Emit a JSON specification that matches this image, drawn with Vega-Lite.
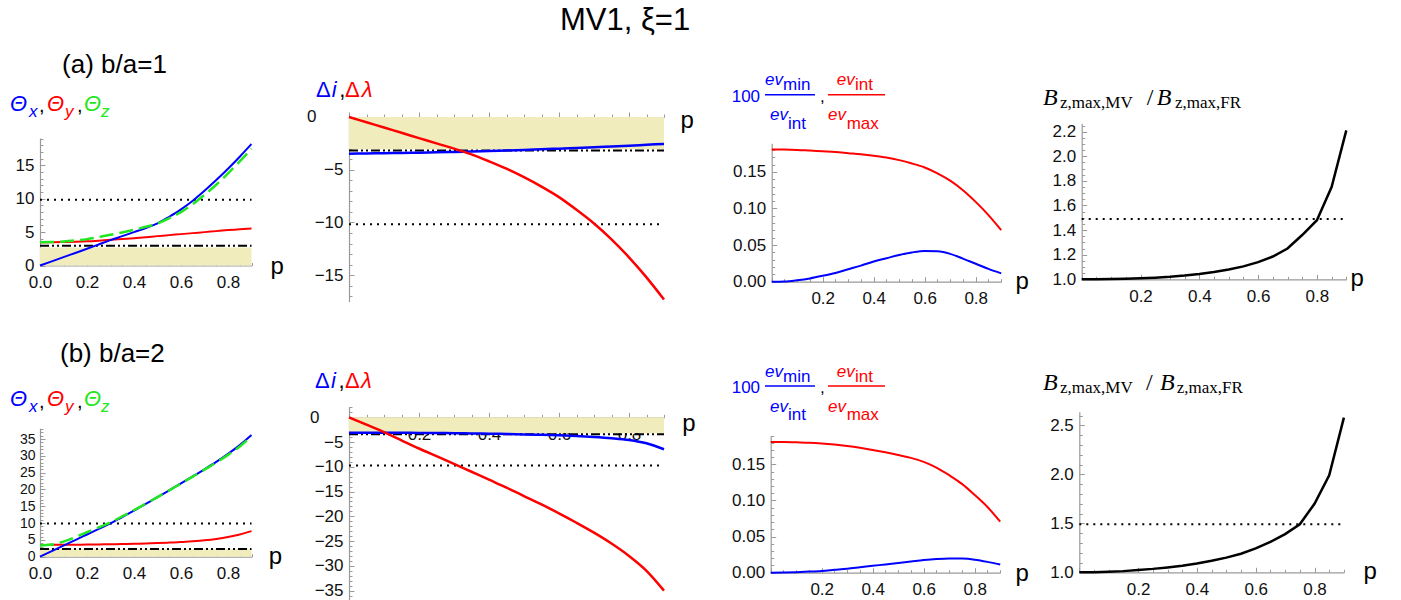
{
"$schema":"https://vega.github.io/schema/vega-lite/v6.json",
"width":1401,"height":600,"autosize":{"type":"none"},"padding":0,
"background":"white",
"title":{"text":"MV1, ξ=1","anchor":"start","frame":"group","orient":"top","offset":-37,"dx":560,"fontSize":31,"font":"Liberation Sans","fontWeight":"normal","color":"#000"},
"config":{"view":{"stroke":null},"axis":{"grid":false,"domainColor":"#9a9a9a","tickColor":"#9a9a9a","domainWidth":1.2,"tickWidth":1,"labelColor":"#111","labelFont":"Liberation Sans","labelFontSize":17,"labelOverlap":false,"labelFlush":false,"labelBound":false,"titleFont":"Liberation Sans","titleFontSize":24,"titleFontWeight":"normal","titleColor":"#000","titlePadding":0},"text":{"font":"Liberation Sans"}},
"resolve":{"scale":{"x":"independent","y":"independent"},"axis":{"x":"independent","y":"independent"}},
"layer":[
{
"data":{"values":[
{"p":0,"x":0,"y":3.5,"z":3.5},{"p":0.05,"x":0.62,"y":3.5,"z":3.52},{"p":0.1,"x":1.25,"y":3.52,"z":3.6},{"p":0.15,"x":1.88,"y":3.56,"z":3.75},{"p":0.2,"x":2.5,"y":3.62,"z":3.95},{"p":0.25,"x":3.15,"y":3.72,"z":4.25},{"p":0.3,"x":3.8,"y":3.84,"z":4.6},{"p":0.35,"x":4.4,"y":3.97,"z":4.95},{"p":0.4,"x":5.0,"y":4.1,"z":5.35},{"p":0.45,"x":5.6,"y":4.25,"z":5.8},{"p":0.5,"x":6.3,"y":4.4,"z":6.3},{"p":0.55,"x":7.3,"y":4.55,"z":7.1},{"p":0.6,"x":8.4,"y":4.7,"z":8.0},{"p":0.65,"x":9.7,"y":4.85,"z":9.2},{"p":0.7,"x":11.2,"y":5.0,"z":10.6},{"p":0.75,"x":12.8,"y":5.15,"z":12.1},{"p":0.8,"x":14.5,"y":5.3,"z":13.8},{"p":0.85,"x":16.3,"y":5.42,"z":15.6},{"p":0.9,"x":18.2,"y":5.55,"z":17.5}
]},
"resolve":{"axis":{"x":"independent","y":"independent"}},
"layer":[
{"data":{"values":[{}]},"mark":{"type":"rule","opacity":0},"encoding":{"x":{"datum":0,"type":"quantitative","scale":{"domain":[0,0.9],"range":[40,251.5],"nice":false,"zero":false},"axis":{"orient":"bottom","offset":-334.5,"values":[0.05,0.1,0.15,0.25,0.3,0.35,0.45,0.5,0.55,0.65,0.7,0.75,0.85,0.9],"labels":false,"domain":false,"tickSize":-3,"title":null}},"y":{"datum":0,"type":"quantitative","scale":{"domain":[0,19.1],"range":[265.5,138],"nice":false,"zero":false},"axis":{"orient":"left","offset":-40,"values":[1,2,3,4,6,7,8,9,11,12,13,14,16,17,18,19],"labels":false,"domain":false,"tickSize":-3,"title":null}}}},
{"data":{"values":[{}]},"mark":{"type":"rect","color":"#f1ecbc"},"encoding":{"x":{"datum":0,"type":"quantitative","scale":{"domain":[0,0.9],"range":[40,251.5],"nice":false,"zero":false},"axis":{"orient":"bottom","offset":-334.5,"labelOverlap":false,"values":[0,0.2,0.4,0.6,0.8],"format":".1f","tickSize":-5,"labelPadding":14,"title":"p","titleX":270,"titleY":7.5,"titleAlign":"left","titleBaseline":"alphabetic"}},"x2":{"datum":0.9},"y":{"datum":0,"type":"quantitative","scale":{"domain":[0,19.1],"range":[265.5,138],"nice":false,"zero":false},"axis":{"orient":"left","offset":-40,"labelOverlap":false,"values":[0,5,10,15],"format":"d","tickSize":-5,"labelPadding":11,"title":null}},"y2":{"datum":2.7}}},
{"data":{"values":[{}]},"mark":{"type":"rule","color":"#000","strokeWidth":2,"strokeDash":[9,3,2,3,2,3]},"encoding":{"x":{"datum":0,"type":"quantitative","scale":{"domain":[0,0.9],"range":[40,251.5],"nice":false,"zero":false},"axis":null},"x2":{"datum":0.9},"y":{"datum":2.97,"type":"quantitative","scale":{"domain":[0,19.1],"range":[265.5,138],"nice":false,"zero":false},"axis":null}}},
{"data":{"values":[{}]},"mark":{"type":"rule","color":"#000","strokeWidth":2,"strokeDash":[2,5]},"encoding":{"x":{"datum":0,"type":"quantitative","scale":{"domain":[0,0.9],"range":[40,251.5],"nice":false,"zero":false},"axis":null},"x2":{"datum":0.9},"y":{"datum":9.85,"type":"quantitative","scale":{"domain":[0,19.1],"range":[265.5,138],"nice":false,"zero":false},"axis":null}}},
{"mark":{"type":"line","color":"#ff0000","strokeWidth":2,"interpolate":"monotone"},"encoding":{"x":{"field":"p","type":"quantitative","scale":{"domain":[0,0.9],"range":[40,251.5],"nice":false,"zero":false},"axis":null},"y":{"field":"y","type":"quantitative","scale":{"domain":[0,19.1],"range":[265.5,138],"nice":false,"zero":false},"axis":null}}},
{"mark":{"type":"line","color":"#0000ff","strokeWidth":2,"interpolate":"monotone"},"encoding":{"x":{"field":"p","type":"quantitative","scale":{"domain":[0,0.9],"range":[40,251.5],"nice":false,"zero":false},"axis":null},"y":{"field":"x","type":"quantitative","scale":{"domain":[0,19.1],"range":[265.5,138],"nice":false,"zero":false},"axis":null}}},
{"mark":{"type":"line","color":"#22e622","strokeWidth":2.5,"strokeDash":[14,6],"interpolate":"monotone"},"encoding":{"x":{"field":"p","type":"quantitative","scale":{"domain":[0,0.9],"range":[40,251.5],"nice":false,"zero":false},"axis":null},"y":{"field":"z","type":"quantitative","scale":{"domain":[0,19.1],"range":[265.5,138],"nice":false,"zero":false},"axis":null}}},
{"data":{"values":[{}]},"mark":{"type":"text","text":"(a) b/a=1","align":"left","baseline":"alphabetic","fontSize":26,"color":"#000"},"encoding":{"x":{"datum":0.094,"type":"quantitative","scale":{"domain":[0,0.9],"range":[40,251.5],"nice":false,"zero":false},"axis":null},"y":{"datum":28.86,"type":"quantitative","scale":{"domain":[0,19.1],"range":[265.5,138],"nice":false,"zero":false},"axis":null}}},
{"data":{"values":[{}]},"mark":{"type":"text","text":"Θ","align":"left","baseline":"alphabetic","fontSize":22,"fontStyle":"italic","color":"#0000ff"},"encoding":{"x":{"datum":-0.1277,"type":"quantitative","scale":{"domain":[0,0.9],"range":[40,251.5],"nice":false,"zero":false},"axis":null},"y":{"datum":23.2,"type":"quantitative","scale":{"domain":[0,19.1],"range":[265.5,138],"nice":false,"zero":false},"axis":null}}},
{"data":{"values":[{}]},"mark":{"type":"text","text":"x","align":"left","baseline":"alphabetic","fontSize":17,"fontStyle":"italic","color":"#0000ff"},"encoding":{"x":{"datum":-0.0468,"type":"quantitative","scale":{"domain":[0,0.9],"range":[40,251.5],"nice":false,"zero":false},"axis":null},"y":{"datum":22.26,"type":"quantitative","scale":{"domain":[0,19.1],"range":[265.5,138],"nice":false,"zero":false},"axis":null}}},
{"data":{"values":[{}]},"mark":{"type":"text","text":",","align":"left","baseline":"alphabetic","fontSize":20,"color":"#000"},"encoding":{"x":{"datum":-0.0043,"type":"quantitative","scale":{"domain":[0,0.9],"range":[40,251.5],"nice":false,"zero":false},"axis":null},"y":{"datum":23.0,"type":"quantitative","scale":{"domain":[0,19.1],"range":[265.5,138],"nice":false,"zero":false},"axis":null}}},
{"data":{"values":[{}]},"mark":{"type":"text","text":"Θ","align":"left","baseline":"alphabetic","fontSize":22,"fontStyle":"italic","color":"#ff0000"},"encoding":{"x":{"datum":0.0298,"type":"quantitative","scale":{"domain":[0,0.9],"range":[40,251.5],"nice":false,"zero":false},"axis":null},"y":{"datum":23.2,"type":"quantitative","scale":{"domain":[0,19.1],"range":[265.5,138],"nice":false,"zero":false},"axis":null}}},
{"data":{"values":[{}]},"mark":{"type":"text","text":"y","align":"left","baseline":"alphabetic","fontSize":17,"fontStyle":"italic","color":"#ff0000"},"encoding":{"x":{"datum":0.1064,"type":"quantitative","scale":{"domain":[0,0.9],"range":[40,251.5],"nice":false,"zero":false},"axis":null},"y":{"datum":22.26,"type":"quantitative","scale":{"domain":[0,19.1],"range":[265.5,138],"nice":false,"zero":false},"axis":null}}},
{"data":{"values":[{}]},"mark":{"type":"text","text":",","align":"left","baseline":"alphabetic","fontSize":20,"color":"#000"},"encoding":{"x":{"datum":0.1574,"type":"quantitative","scale":{"domain":[0,0.9],"range":[40,251.5],"nice":false,"zero":false},"axis":null},"y":{"datum":23.0,"type":"quantitative","scale":{"domain":[0,19.1],"range":[265.5,138],"nice":false,"zero":false},"axis":null}}},
{"data":{"values":[{}]},"mark":{"type":"text","text":"Θ","align":"left","baseline":"alphabetic","fontSize":22,"fontStyle":"italic","color":"#22e622"},"encoding":{"x":{"datum":0.1872,"type":"quantitative","scale":{"domain":[0,0.9],"range":[40,251.5],"nice":false,"zero":false},"axis":null},"y":{"datum":23.2,"type":"quantitative","scale":{"domain":[0,19.1],"range":[265.5,138],"nice":false,"zero":false},"axis":null}}},
{"data":{"values":[{}]},"mark":{"type":"text","text":"z","align":"left","baseline":"alphabetic","fontSize":17,"fontStyle":"italic","color":"#22e622"},"encoding":{"x":{"datum":0.2596,"type":"quantitative","scale":{"domain":[0,0.9],"range":[40,251.5],"nice":false,"zero":false},"axis":null},"y":{"datum":22.26,"type":"quantitative","scale":{"domain":[0,19.1],"range":[265.5,138],"nice":false,"zero":false},"axis":null}}}
]
},
{
"data":{"values":[
{"p":0,"i":-3.48,"l":0},{"p":0.05,"i":-3.455,"l":-0.5},{"p":0.1,"i":-3.43,"l":-1.0},{"p":0.15,"i":-3.405,"l":-1.5},{"p":0.2,"i":-3.38,"l":-2.0},{"p":0.25,"i":-3.345,"l":-2.5},{"p":0.3,"i":-3.31,"l":-3.0},{"p":0.35,"i":-3.265,"l":-3.55},{"p":0.4,"i":-3.22,"l":-4.2},{"p":0.45,"i":-3.17,"l":-4.9},{"p":0.5,"i":-3.12,"l":-5.7},{"p":0.55,"i":-3.06,"l":-6.6},{"p":0.6,"i":-3.0,"l":-7.6},{"p":0.65,"i":-2.935,"l":-8.8},{"p":0.7,"i":-2.87,"l":-10.1},{"p":0.75,"i":-2.795,"l":-11.6},{"p":0.8,"i":-2.72,"l":-13.3},{"p":0.85,"i":-2.635,"l":-15.2},{"p":0.9,"i":-2.55,"l":-17.3}
]},
"resolve":{"axis":{"x":"independent","y":"independent"}},
"layer":[
{"data":{"values":[{}]},"mark":{"type":"rule","opacity":0},"encoding":{"x":{"datum":0,"type":"quantitative","scale":{"domain":[0,0.9],"range":[349,664],"nice":false,"zero":false},"axis":{"orient":"bottom","offset":-483,"values":[0.05,0.1,0.15,0.25,0.3,0.35,0.45,0.5,0.55,0.65,0.7,0.75,0.85,0.9],"labels":false,"domain":false,"tickSize":-3,"title":null}},"y":{"datum":0,"type":"quantitative","scale":{"domain":[-17.5,0.35],"range":[301.6,113.3],"nice":false,"zero":false},"axis":{"orient":"left","offset":-349,"values":[-17,-16,-14,-13,-12,-11,-9,-8,-7,-6,-4,-3,-2,-1],"labels":false,"domain":false,"tickSize":-3,"title":null}}}},
{"data":{"values":[{}]},"mark":{"type":"rect","color":"#f1ecbc"},"encoding":{"x":{"datum":0,"type":"quantitative","scale":{"domain":[0,0.9],"range":[349,664],"nice":false,"zero":false},"axis":{"orient":"bottom","offset":-483,"labelOverlap":false,"values":[0,0.2,0.4,0.6,0.8],"labelExpr":"datum.value>0.01 ? format(datum.value,'.1f') : ''","tickSize":-5,"labelPadding":14,"title":"p","titleX":680,"titleY":10,"titleAlign":"left","titleBaseline":"alphabetic"}},"x2":{"datum":0.9},"y":{"datum":0,"type":"quantitative","scale":{"domain":[-17.5,0.35],"range":[301.6,113.3],"nice":false,"zero":false},"axis":{"orient":"left","offset":-349,"labelOverlap":false,"values":[-15,-10,-5,0],"format":"d","tickSize":-5,"labelPadding":{"condition":{"test":"datum.value===0","value":38},"value":11},"title":null}},"y2":{"datum":-3.05}}},
{"data":{"values":[{}]},"mark":{"type":"rule","color":"#000","strokeWidth":2,"strokeDash":[9,3,2,3,2,3]},"encoding":{"x":{"datum":0,"type":"quantitative","scale":{"domain":[0,0.9],"range":[349,664],"nice":false,"zero":false},"axis":null},"x2":{"datum":0.9},"y":{"datum":-3.17,"type":"quantitative","scale":{"domain":[-17.5,0.35],"range":[301.6,113.3],"nice":false,"zero":false},"axis":null}}},
{"data":{"values":[{}]},"mark":{"type":"rule","color":"#000","strokeWidth":2,"strokeDash":[2,5]},"encoding":{"x":{"datum":0,"type":"quantitative","scale":{"domain":[0,0.9],"range":[349,664],"nice":false,"zero":false},"axis":null},"x2":{"datum":0.9},"y":{"datum":-10.17,"type":"quantitative","scale":{"domain":[-17.5,0.35],"range":[301.6,113.3],"nice":false,"zero":false},"axis":null}}},
{"mark":{"type":"line","color":"#0000ff","strokeWidth":2.5,"interpolate":"monotone"},"encoding":{"x":{"field":"p","type":"quantitative","scale":{"domain":[0,0.9],"range":[349,664],"nice":false,"zero":false},"axis":null},"y":{"field":"i","type":"quantitative","scale":{"domain":[-17.5,0.35],"range":[301.6,113.3],"nice":false,"zero":false},"axis":null}}},
{"mark":{"type":"line","color":"#ff0000","strokeWidth":2.5,"interpolate":"monotone"},"encoding":{"x":{"field":"p","type":"quantitative","scale":{"domain":[0,0.9],"range":[349,664],"nice":false,"zero":false},"axis":null},"y":{"field":"l","type":"quantitative","scale":{"domain":[-17.5,0.35],"range":[301.6,113.3],"nice":false,"zero":false},"axis":null}}},
{"data":{"values":[{}]},"mark":{"type":"text","text":"Δ","align":"left","baseline":"alphabetic","fontSize":22,"color":"#0000ff"},"encoding":{"x":{"datum":-0.0943,"type":"quantitative","scale":{"domain":[0,0.9],"range":[349,664],"nice":false,"zero":false},"axis":null},"y":{"datum":1.924,"type":"quantitative","scale":{"domain":[-17.5,0.35],"range":[301.6,113.3],"nice":false,"zero":false},"axis":null}}},
{"data":{"values":[{}]},"mark":{"type":"text","text":"i","align":"left","baseline":"alphabetic","fontSize":22,"fontStyle":"italic","color":"#0000ff"},"encoding":{"x":{"datum":-0.0495,"type":"quantitative","scale":{"domain":[0,0.9],"range":[349,664],"nice":false,"zero":false},"axis":null},"y":{"datum":1.924,"type":"quantitative","scale":{"domain":[-17.5,0.35],"range":[301.6,113.3],"nice":false,"zero":false},"axis":null}}},
{"data":{"values":[{}]},"mark":{"type":"text","text":",","align":"left","baseline":"alphabetic","fontSize":22,"color":"#000"},"encoding":{"x":{"datum":-0.0277,"type":"quantitative","scale":{"domain":[0,0.9],"range":[349,664],"nice":false,"zero":false},"axis":null},"y":{"datum":1.924,"type":"quantitative","scale":{"domain":[-17.5,0.35],"range":[301.6,113.3],"nice":false,"zero":false},"axis":null}}},
{"data":{"values":[{}]},"mark":{"type":"text","text":"Δ","align":"left","baseline":"alphabetic","fontSize":22,"color":"#ff0000"},"encoding":{"x":{"datum":-0.0114,"type":"quantitative","scale":{"domain":[0,0.9],"range":[349,664],"nice":false,"zero":false},"axis":null},"y":{"datum":1.924,"type":"quantitative","scale":{"domain":[-17.5,0.35],"range":[301.6,113.3],"nice":false,"zero":false},"axis":null}}},
{"data":{"values":[{}]},"mark":{"type":"text","text":"λ","align":"left","baseline":"alphabetic","fontSize":22,"fontStyle":"italic","color":"#ff0000"},"encoding":{"x":{"datum":0.0362,"type":"quantitative","scale":{"domain":[0,0.9],"range":[349,664],"nice":false,"zero":false},"axis":null},"y":{"datum":1.924,"type":"quantitative","scale":{"domain":[-17.5,0.35],"range":[301.6,113.3],"nice":false,"zero":false},"axis":null}}}
]
},
{
"data":{"values":[
{"p":0,"b":0,"r":0.1805},{"p":0.05,"b":0.0003,"r":0.1804},{"p":0.1,"b":0.002,"r":0.18},{"p":0.15,"b":0.0045,"r":0.179},{"p":0.2,"b":0.008,"r":0.178},{"p":0.25,"b":0.012,"r":0.177},{"p":0.3,"b":0.017,"r":0.1755},{"p":0.35,"b":0.022,"r":0.174},{"p":0.4,"b":0.0275,"r":0.172},{"p":0.45,"b":0.032,"r":0.1695},{"p":0.5,"b":0.0365,"r":0.166},{"p":0.55,"b":0.04,"r":0.1615},{"p":0.6,"b":0.042,"r":0.156},{"p":0.65,"b":0.0415,"r":0.148},{"p":0.7,"b":0.038,"r":0.138},{"p":0.75,"b":0.0315,"r":0.125},{"p":0.8,"b":0.0245,"r":0.109},{"p":0.85,"b":0.0175,"r":0.091},{"p":0.9,"b":0.0114,"r":0.0705}
]},
"resolve":{"axis":{"x":"independent","y":"independent"}},
"layer":[
{"data":{"values":[{}]},"mark":{"type":"rule","opacity":0},"encoding":{"x":{"datum":0,"type":"quantitative","scale":{"domain":[0,0.9],"range":[771.7,1001.2],"nice":false,"zero":false},"axis":{"orient":"bottom","offset":-318.3,"values":[0.05,0.1,0.15,0.25,0.3,0.35,0.45,0.5,0.55,0.65,0.7,0.75,0.85,0.9],"labels":false,"domain":false,"tickSize":-3,"title":null}},"y":{"datum":0,"type":"quantitative","scale":{"domain":[0,0.189],"range":[281.7,143.3],"nice":false,"zero":false},"axis":{"orient":"left","offset":-771.7,"values":[0.01,0.02,0.03,0.04,0.06,0.07,0.08,0.09,0.11,0.12,0.13,0.14,0.16,0.17,0.18],"labels":false,"domain":false,"tickSize":-3,"title":null}}}},
{"mark":{"type":"line","color":"#ff0000","strokeWidth":2,"interpolate":"monotone"},"encoding":{"x":{"field":"p","type":"quantitative","scale":{"domain":[0,0.9],"range":[771.7,1001.2],"nice":false,"zero":false},"axis":{"orient":"bottom","offset":-318.3,"labelOverlap":false,"values":[0,0.2,0.4,0.6,0.8],"labelExpr":"datum.value>0.01 ? format(datum.value,'.1f') : ''","tickSize":-5,"labelPadding":14,"title":"p","titleX":1015,"titleY":6.3,"titleAlign":"left","titleBaseline":"alphabetic"}},"y":{"field":"r","type":"quantitative","scale":{"domain":[0,0.189],"range":[281.7,143.3],"nice":false,"zero":false},"axis":{"orient":"left","offset":-771.7,"labelOverlap":false,"values":[0,0.05,0.1,0.15],"format":".2f","tickSize":-5,"labelPadding":11,"title":null}}}},
{"mark":{"type":"line","color":"#0000ff","strokeWidth":2,"interpolate":"monotone"},"encoding":{"x":{"field":"p","type":"quantitative","scale":{"domain":[0,0.9],"range":[771.7,1001.2],"nice":false,"zero":false},"axis":null},"y":{"field":"b","type":"quantitative","scale":{"domain":[0,0.189],"range":[281.7,143.3],"nice":false,"zero":false},"axis":null}}},
{"data":{"values":[{}]},"mark":{"type":"text","text":"100","align":"left","baseline":"alphabetic","fontSize":17,"color":"#0000ff"},"encoding":{"x":{"datum":-0.1569,"type":"quantitative","scale":{"domain":[0,0.9],"range":[771.7,1001.2],"nice":false,"zero":false},"axis":null},"y":{"datum":0.2454,"type":"quantitative","scale":{"domain":[0,0.189],"range":[281.7,143.3],"nice":false,"zero":false},"axis":null}}},
{"data":{"values":[{}]},"mark":{"type":"text","text":"ev","align":"left","baseline":"alphabetic","fontSize":17,"fontStyle":"italic","color":"#0000ff"},"encoding":{"x":{"datum":-0.0263,"type":"quantitative","scale":{"domain":[0,0.9],"range":[771.7,1001.2],"nice":false,"zero":false},"axis":null},"y":{"datum":0.2681,"type":"quantitative","scale":{"domain":[0,0.189],"range":[281.7,143.3],"nice":false,"zero":false},"axis":null}}},
{"data":{"values":[{}]},"mark":{"type":"text","text":"min","align":"left","baseline":"alphabetic","fontSize":17,"color":"#0000ff"},"encoding":{"x":{"datum":0.0443,"type":"quantitative","scale":{"domain":[0,0.9],"range":[771.7,1001.2],"nice":false,"zero":false},"axis":null},"y":{"datum":0.2613,"type":"quantitative","scale":{"domain":[0,0.189],"range":[281.7,143.3],"nice":false,"zero":false},"axis":null}}},
{"data":{"values":[{}]},"mark":{"type":"rule","color":"#0000ff","strokeWidth":1.5},"encoding":{"x":{"datum":-0.0263,"type":"quantitative","scale":{"domain":[0,0.9],"range":[771.7,1001.2],"nice":false,"zero":false},"axis":null},"x2":{"datum":0.1698},"y":{"datum":0.2554,"type":"quantitative","scale":{"domain":[0,0.189],"range":[281.7,143.3],"nice":false,"zero":false},"axis":null}}},
{"data":{"values":[{}]},"mark":{"type":"text","text":"ev","align":"left","baseline":"alphabetic","fontSize":17,"fontStyle":"italic","color":"#0000ff"},"encoding":{"x":{"datum":-0.0067,"type":"quantitative","scale":{"domain":[0,0.9],"range":[771.7,1001.2],"nice":false,"zero":false},"axis":null},"y":{"datum":0.2203,"type":"quantitative","scale":{"domain":[0,0.189],"range":[281.7,143.3],"nice":false,"zero":false},"axis":null}}},
{"data":{"values":[{}]},"mark":{"type":"text","text":"int","align":"left","baseline":"alphabetic","fontSize":17,"color":"#0000ff"},"encoding":{"x":{"datum":0.0639,"type":"quantitative","scale":{"domain":[0,0.9],"range":[771.7,1001.2],"nice":false,"zero":false},"axis":null},"y":{"datum":0.209,"type":"quantitative","scale":{"domain":[0,0.189],"range":[281.7,143.3],"nice":false,"zero":false},"axis":null}}},
{"data":{"values":[{}]},"mark":{"type":"text","text":",","align":"left","baseline":"alphabetic","fontSize":17,"color":"#000"},"encoding":{"x":{"datum":0.1894,"type":"quantitative","scale":{"domain":[0,0.9],"range":[771.7,1001.2],"nice":false,"zero":false},"axis":null},"y":{"datum":0.2458,"type":"quantitative","scale":{"domain":[0,0.189],"range":[281.7,143.3],"nice":false,"zero":false},"axis":null}}},
{"data":{"values":[{}]},"mark":{"type":"text","text":"ev","align":"left","baseline":"alphabetic","fontSize":17,"fontStyle":"italic","color":"#ff0000"},"encoding":{"x":{"datum":0.2549,"type":"quantitative","scale":{"domain":[0,0.9],"range":[771.7,1001.2],"nice":false,"zero":false},"axis":null},"y":{"datum":0.2681,"type":"quantitative","scale":{"domain":[0,0.189],"range":[281.7,143.3],"nice":false,"zero":false},"axis":null}}},
{"data":{"values":[{}]},"mark":{"type":"text","text":"int","align":"left","baseline":"alphabetic","fontSize":17,"color":"#ff0000"},"encoding":{"x":{"datum":0.3267,"type":"quantitative","scale":{"domain":[0,0.9],"range":[771.7,1001.2],"nice":false,"zero":false},"axis":null},"y":{"datum":0.2613,"type":"quantitative","scale":{"domain":[0,0.189],"range":[281.7,143.3],"nice":false,"zero":false},"axis":null}}},
{"data":{"values":[{}]},"mark":{"type":"rule","color":"#ff0000","strokeWidth":1.5},"encoding":{"x":{"datum":0.2208,"type":"quantitative","scale":{"domain":[0,0.9],"range":[771.7,1001.2],"nice":false,"zero":false},"axis":null},"x2":{"datum":0.4443},"y":{"datum":0.2554,"type":"quantitative","scale":{"domain":[0,0.189],"range":[281.7,143.3],"nice":false,"zero":false},"axis":null}}},
{"data":{"values":[{}]},"mark":{"type":"text","text":"ev","align":"left","baseline":"alphabetic","fontSize":17,"fontStyle":"italic","color":"#ff0000"},"encoding":{"x":{"datum":0.2208,"type":"quantitative","scale":{"domain":[0,0.9],"range":[771.7,1001.2],"nice":false,"zero":false},"axis":null},"y":{"datum":0.2203,"type":"quantitative","scale":{"domain":[0,0.189],"range":[281.7,143.3],"nice":false,"zero":false},"axis":null}}},
{"data":{"values":[{}]},"mark":{"type":"text","text":"max","align":"left","baseline":"alphabetic","fontSize":17,"color":"#ff0000"},"encoding":{"x":{"datum":0.2941,"type":"quantitative","scale":{"domain":[0,0.9],"range":[771.7,1001.2],"nice":false,"zero":false},"axis":null},"y":{"datum":0.209,"type":"quantitative","scale":{"domain":[0,0.189],"range":[281.7,143.3],"nice":false,"zero":false},"axis":null}}}
]
},
{
"data":{"values":[
{"p":0,"v":1.0},{"p":0.05,"v":1.0005},{"p":0.1,"v":1.002},{"p":0.15,"v":1.004},{"p":0.2,"v":1.008},{"p":0.25,"v":1.013},{"p":0.3,"v":1.02},{"p":0.35,"v":1.03},{"p":0.4,"v":1.043},{"p":0.45,"v":1.06},{"p":0.5,"v":1.08},{"p":0.55,"v":1.105},{"p":0.6,"v":1.14},{"p":0.65,"v":1.185},{"p":0.7,"v":1.25},{"p":0.75,"v":1.36},{"p":0.8,"v":1.48},{"p":0.85,"v":1.75},{"p":0.9,"v":2.21}
]},
"resolve":{"axis":{"x":"independent","y":"independent"}},
"layer":[
{"data":{"values":[{}]},"mark":{"type":"rule","opacity":0},"encoding":{"x":{"datum":0,"type":"quantitative","scale":{"domain":[0,0.9],"range":[1081.7,1346.3],"nice":false,"zero":false},"axis":{"orient":"bottom","offset":-320.7,"values":[0.05,0.1,0.15,0.25,0.3,0.35,0.45,0.5,0.55,0.65,0.7,0.75,0.85,0.9],"labels":false,"domain":false,"tickSize":-3,"title":null}},"y":{"datum":1,"type":"quantitative","scale":{"domain":[1,2.268],"range":[279.3,123.3],"nice":false,"zero":false},"axis":{"orient":"left","offset":-1081.7,"values":[1.05,1.1,1.15,1.25,1.3,1.35,1.45,1.5,1.55,1.65,1.7,1.75,1.85,1.9,1.95,2.05,2.1,2.15,2.25],"labels":false,"domain":false,"tickSize":-3,"title":null}}}},
{"data":{"values":[{}]},"mark":{"type":"rule","color":"#000","strokeWidth":2,"strokeDash":[2,5]},"encoding":{"x":{"datum":0,"type":"quantitative","scale":{"domain":[0,0.9],"range":[1081.7,1346.3],"nice":false,"zero":false},"axis":{"orient":"bottom","offset":-320.7,"labelOverlap":false,"values":[0,0.2,0.4,0.6,0.8],"labelExpr":"datum.value>0.01 ? format(datum.value,'.1f') : ''","tickSize":-5,"labelPadding":14,"title":"p","titleX":1350,"titleY":5.7,"titleAlign":"left","titleBaseline":"alphabetic"}},"x2":{"datum":0.9},"y":{"datum":1.49,"type":"quantitative","scale":{"domain":[1,2.268],"range":[279.3,123.3],"nice":false,"zero":false},"axis":{"orient":"left","offset":-1081.7,"labelOverlap":false,"values":[1,1.2,1.4,1.6,1.8,2,2.2],"format":".1f","tickSize":-5,"labelPadding":11,"title":null}}}},
{"mark":{"type":"line","color":"#000","strokeWidth":2.5},"encoding":{"x":{"field":"p","type":"quantitative","scale":{"domain":[0,0.9],"range":[1081.7,1346.3],"nice":false,"zero":false},"axis":null},"y":{"field":"v","type":"quantitative","scale":{"domain":[1,2.268],"range":[279.3,123.3],"nice":false,"zero":false},"axis":null}}},
{"data":{"values":[{}]},"mark":{"type":"text","text":"B","align":"left","baseline":"alphabetic","fontSize":24,"fontStyle":"italic","font":"Liberation Serif","color":"#000"},"encoding":{"x":{"datum":-0.1316,"type":"quantitative","scale":{"domain":[0,0.9],"range":[1081.7,1346.3],"nice":false,"zero":false},"axis":null},"y":{"datum":2.417,"type":"quantitative","scale":{"domain":[1,2.268],"range":[279.3,123.3],"nice":false,"zero":false},"axis":null}}},
{"data":{"values":[{}]},"mark":{"type":"text","text":"z,max,MV","align":"left","baseline":"alphabetic","fontSize":17,"font":"Liberation Serif","color":"#000"},"encoding":{"x":{"datum":-0.0738,"type":"quantitative","scale":{"domain":[0,0.9],"range":[1081.7,1346.3],"nice":false,"zero":false},"axis":null},"y":{"datum":2.393,"type":"quantitative","scale":{"domain":[1,2.268],"range":[279.3,123.3],"nice":false,"zero":false},"axis":null}}},
{"data":{"values":[{}]},"mark":{"type":"text","text":"/","align":"left","baseline":"alphabetic","fontSize":24,"font":"Liberation Serif","color":"#000"},"encoding":{"x":{"datum":0.221,"type":"quantitative","scale":{"domain":[0,0.9],"range":[1081.7,1346.3],"nice":false,"zero":false},"axis":null},"y":{"datum":2.417,"type":"quantitative","scale":{"domain":[1,2.268],"range":[279.3,123.3],"nice":false,"zero":false},"axis":null}}},
{"data":{"values":[{}]},"mark":{"type":"text","text":"B","align":"left","baseline":"alphabetic","fontSize":24,"fontStyle":"italic","font":"Liberation Serif","color":"#000"},"encoding":{"x":{"datum":0.2551,"type":"quantitative","scale":{"domain":[0,0.9],"range":[1081.7,1346.3],"nice":false,"zero":false},"axis":null},"y":{"datum":2.417,"type":"quantitative","scale":{"domain":[1,2.268],"range":[279.3,123.3],"nice":false,"zero":false},"axis":null}}},
{"data":{"values":[{}]},"mark":{"type":"text","text":"z,max,FR","align":"left","baseline":"alphabetic","fontSize":17,"font":"Liberation Serif","color":"#000"},"encoding":{"x":{"datum":0.3173,"type":"quantitative","scale":{"domain":[0,0.9],"range":[1081.7,1346.3],"nice":false,"zero":false},"axis":null},"y":{"datum":2.393,"type":"quantitative","scale":{"domain":[1,2.268],"range":[279.3,123.3],"nice":false,"zero":false},"axis":null}}}
]
},
{
"data":{"values":[
{"p":0,"x":0,"y":3.5,"z":3.3},{"p":0.05,"x":1.65,"y":3.52,"z":3.6},{"p":0.1,"x":3.3,"y":3.55,"z":4.5},{"p":0.15,"x":4.95,"y":3.57,"z":5.8},{"p":0.2,"x":6.6,"y":3.6,"z":7.3},{"p":0.25,"x":8.25,"y":3.65,"z":8.7},{"p":0.3,"x":9.9,"y":3.7,"z":10.2},{"p":0.35,"x":11.8,"y":3.77,"z":12.0},{"p":0.4,"x":13.7,"y":3.85,"z":13.85},{"p":0.45,"x":15.7,"y":3.95,"z":15.8},{"p":0.5,"x":17.7,"y":4.05,"z":17.75},{"p":0.55,"x":19.75,"y":4.2,"z":19.75},{"p":0.6,"x":21.8,"y":4.35,"z":21.75},{"p":0.65,"x":23.9,"y":4.6,"z":23.8},{"p":0.7,"x":26.0,"y":4.9,"z":25.9},{"p":0.75,"x":28.2,"y":5.3,"z":28.0},{"p":0.8,"x":30.6,"y":5.85,"z":30.3},{"p":0.85,"x":33.2,"y":6.6,"z":32.8},{"p":0.9,"x":36.2,"y":7.6,"z":35.8}
]},
"resolve":{"axis":{"x":"independent","y":"independent"}},
"layer":[
{"data":{"values":[{}]},"mark":{"type":"rule","opacity":0},"encoding":{"x":{"datum":0,"type":"quantitative","scale":{"domain":[0,0.9],"range":[40,251.5],"nice":false,"zero":false},"axis":{"orient":"bottom","offset":-43.3,"values":[0.05,0.1,0.15,0.25,0.3,0.35,0.45,0.5,0.55,0.65,0.7,0.75,0.85,0.9],"labels":false,"domain":false,"tickSize":-3,"title":null}},"y":{"datum":0,"type":"quantitative","scale":{"domain":[0,38.2],"range":[556.7,428.3],"nice":false,"zero":false},"axis":{"orient":"left","offset":-40,"values":[1,2,3,4,6,7,8,9,11,12,13,14,16,17,18,19,21,22,23,24,26,27,28,29,31,32,33,34,36,37,38],"labels":false,"domain":false,"tickSize":-3,"title":null}}}},
{"data":{"values":[{}]},"mark":{"type":"rect","color":"#f1ecbc"},"encoding":{"x":{"datum":0,"type":"quantitative","scale":{"domain":[0,0.9],"range":[40,251.5],"nice":false,"zero":false},"axis":{"orient":"bottom","offset":-43.3,"labelOverlap":false,"values":[0,0.2,0.4,0.6,0.8],"format":".1f","tickSize":-5,"labelPadding":14,"title":"p","titleX":268.3,"titleY":6.6,"titleAlign":"left","titleBaseline":"alphabetic"}},"x2":{"datum":0.9},"y":{"datum":0,"type":"quantitative","scale":{"domain":[0,38.2],"range":[556.7,428.3],"nice":false,"zero":false},"axis":{"orient":"left","offset":-40,"labelOverlap":false,"values":[0,5,10,15,20,25,30,35],"format":"d","labelFontSize":14,"tickSize":-5,"labelPadding":10,"title":null}},"y2":{"datum":2.3}}},
{"data":{"values":[{}]},"mark":{"type":"rule","color":"#000","strokeWidth":2,"strokeDash":[9,3,2,3,2,3]},"encoding":{"x":{"datum":0,"type":"quantitative","scale":{"domain":[0,0.9],"range":[40,251.5],"nice":false,"zero":false},"axis":null},"x2":{"datum":0.9},"y":{"datum":2.3,"type":"quantitative","scale":{"domain":[0,38.2],"range":[556.7,428.3],"nice":false,"zero":false},"axis":null}}},
{"data":{"values":[{}]},"mark":{"type":"rule","color":"#000","strokeWidth":2,"strokeDash":[2,5]},"encoding":{"x":{"datum":0,"type":"quantitative","scale":{"domain":[0,0.9],"range":[40,251.5],"nice":false,"zero":false},"axis":null},"x2":{"datum":0.9},"y":{"datum":9.9,"type":"quantitative","scale":{"domain":[0,38.2],"range":[556.7,428.3],"nice":false,"zero":false},"axis":null}}},
{"mark":{"type":"line","color":"#ff0000","strokeWidth":2,"interpolate":"monotone"},"encoding":{"x":{"field":"p","type":"quantitative","scale":{"domain":[0,0.9],"range":[40,251.5],"nice":false,"zero":false},"axis":null},"y":{"field":"y","type":"quantitative","scale":{"domain":[0,38.2],"range":[556.7,428.3],"nice":false,"zero":false},"axis":null}}},
{"mark":{"type":"line","color":"#0000ff","strokeWidth":2,"interpolate":"monotone"},"encoding":{"x":{"field":"p","type":"quantitative","scale":{"domain":[0,0.9],"range":[40,251.5],"nice":false,"zero":false},"axis":null},"y":{"field":"x","type":"quantitative","scale":{"domain":[0,38.2],"range":[556.7,428.3],"nice":false,"zero":false},"axis":null}}},
{"mark":{"type":"line","color":"#22e622","strokeWidth":2.5,"strokeDash":[14,6],"interpolate":"monotone"},"encoding":{"x":{"field":"p","type":"quantitative","scale":{"domain":[0,0.9],"range":[40,251.5],"nice":false,"zero":false},"axis":null},"y":{"field":"z","type":"quantitative","scale":{"domain":[0,38.2],"range":[556.7,428.3],"nice":false,"zero":false},"axis":null}}},
{"data":{"values":[{}]},"mark":{"type":"text","text":"(b) b/a=2","align":"left","baseline":"alphabetic","fontSize":26,"color":"#000"},"encoding":{"x":{"datum":0.085,"type":"quantitative","scale":{"domain":[0,0.9],"range":[40,251.5],"nice":false,"zero":false},"axis":null},"y":{"datum":57.96,"type":"quantitative","scale":{"domain":[0,38.2],"range":[556.7,428.3],"nice":false,"zero":false},"axis":null}}},
{"data":{"values":[{}]},"mark":{"type":"text","text":"Θ","align":"left","baseline":"alphabetic","fontSize":22,"fontStyle":"italic","color":"#0000ff"},"encoding":{"x":{"datum":-0.1277,"type":"quantitative","scale":{"domain":[0,0.9],"range":[40,251.5],"nice":false,"zero":false},"axis":null},"y":{"datum":44.81,"type":"quantitative","scale":{"domain":[0,38.2],"range":[556.7,428.3],"nice":false,"zero":false},"axis":null}}},
{"data":{"values":[{}]},"mark":{"type":"text","text":"x","align":"left","baseline":"alphabetic","fontSize":17,"fontStyle":"italic","color":"#0000ff"},"encoding":{"x":{"datum":-0.0468,"type":"quantitative","scale":{"domain":[0,0.9],"range":[40,251.5],"nice":false,"zero":false},"axis":null},"y":{"datum":43.03,"type":"quantitative","scale":{"domain":[0,38.2],"range":[556.7,428.3],"nice":false,"zero":false},"axis":null}}},
{"data":{"values":[{}]},"mark":{"type":"text","text":",","align":"left","baseline":"alphabetic","fontSize":20,"color":"#000"},"encoding":{"x":{"datum":-0.0043,"type":"quantitative","scale":{"domain":[0,0.9],"range":[40,251.5],"nice":false,"zero":false},"axis":null},"y":{"datum":44.22,"type":"quantitative","scale":{"domain":[0,38.2],"range":[556.7,428.3],"nice":false,"zero":false},"axis":null}}},
{"data":{"values":[{}]},"mark":{"type":"text","text":"Θ","align":"left","baseline":"alphabetic","fontSize":22,"fontStyle":"italic","color":"#ff0000"},"encoding":{"x":{"datum":0.0298,"type":"quantitative","scale":{"domain":[0,0.9],"range":[40,251.5],"nice":false,"zero":false},"axis":null},"y":{"datum":44.81,"type":"quantitative","scale":{"domain":[0,38.2],"range":[556.7,428.3],"nice":false,"zero":false},"axis":null}}},
{"data":{"values":[{}]},"mark":{"type":"text","text":"y","align":"left","baseline":"alphabetic","fontSize":17,"fontStyle":"italic","color":"#ff0000"},"encoding":{"x":{"datum":0.1064,"type":"quantitative","scale":{"domain":[0,0.9],"range":[40,251.5],"nice":false,"zero":false},"axis":null},"y":{"datum":43.03,"type":"quantitative","scale":{"domain":[0,38.2],"range":[556.7,428.3],"nice":false,"zero":false},"axis":null}}},
{"data":{"values":[{}]},"mark":{"type":"text","text":",","align":"left","baseline":"alphabetic","fontSize":20,"color":"#000"},"encoding":{"x":{"datum":0.1574,"type":"quantitative","scale":{"domain":[0,0.9],"range":[40,251.5],"nice":false,"zero":false},"axis":null},"y":{"datum":44.22,"type":"quantitative","scale":{"domain":[0,38.2],"range":[556.7,428.3],"nice":false,"zero":false},"axis":null}}},
{"data":{"values":[{}]},"mark":{"type":"text","text":"Θ","align":"left","baseline":"alphabetic","fontSize":22,"fontStyle":"italic","color":"#22e622"},"encoding":{"x":{"datum":0.1872,"type":"quantitative","scale":{"domain":[0,0.9],"range":[40,251.5],"nice":false,"zero":false},"axis":null},"y":{"datum":44.81,"type":"quantitative","scale":{"domain":[0,38.2],"range":[556.7,428.3],"nice":false,"zero":false},"axis":null}}},
{"data":{"values":[{}]},"mark":{"type":"text","text":"z","align":"left","baseline":"alphabetic","fontSize":17,"fontStyle":"italic","color":"#22e622"},"encoding":{"x":{"datum":0.2596,"type":"quantitative","scale":{"domain":[0,0.9],"range":[40,251.5],"nice":false,"zero":false},"axis":null},"y":{"datum":43.03,"type":"quantitative","scale":{"domain":[0,38.2],"range":[556.7,428.3],"nice":false,"zero":false},"axis":null}}}
]
},
{
"data":{"values":[
{"p":0,"i":-3.1,"l":0},{"p":0.05,"i":-3.1,"l":-1.5},{"p":0.1,"i":-3.11,"l":-3.0},{"p":0.15,"i":-3.13,"l":-4.65},{"p":0.2,"i":-3.15,"l":-6.3},{"p":0.25,"i":-3.18,"l":-7.85},{"p":0.3,"i":-3.21,"l":-9.4},{"p":0.35,"i":-3.25,"l":-11.0},{"p":0.4,"i":-3.3,"l":-12.6},{"p":0.45,"i":-3.37,"l":-14.2},{"p":0.5,"i":-3.45,"l":-15.9},{"p":0.55,"i":-3.53,"l":-17.6},{"p":0.6,"i":-3.63,"l":-19.4},{"p":0.65,"i":-3.78,"l":-21.3},{"p":0.7,"i":-3.97,"l":-23.3},{"p":0.75,"i":-4.22,"l":-25.5},{"p":0.8,"i":-4.58,"l":-28.0},{"p":0.85,"i":-5.25,"l":-31.0},{"p":0.9,"i":-6.46,"l":-35.0}
]},
"resolve":{"axis":{"x":"independent","y":"independent"}},
"layer":[
{"data":{"values":[{}]},"mark":{"type":"rule","opacity":0},"encoding":{"x":{"datum":0,"type":"quantitative","scale":{"domain":[0,0.9],"range":[349,664],"nice":false,"zero":false},"axis":{"orient":"bottom","offset":-182.7,"values":[0.05,0.1,0.15,0.25,0.3,0.35,0.45,0.5,0.55,0.65,0.7,0.75,0.85,0.9],"labels":false,"domain":false,"tickSize":-3,"title":null}},"y":{"datum":0,"type":"quantitative","scale":{"domain":[-37,2.14],"range":[600.5,406.7],"nice":false,"zero":false},"axis":{"orient":"left","offset":-349,"values":[-37,-36,-34,-33,-32,-31,-29,-28,-27,-26,-24,-23,-22,-21,-19,-18,-17,-16,-14,-13,-12,-11,-9,-8,-7,-6,-4,-3,-2,-1,1,2],"labels":false,"domain":false,"tickSize":-3,"title":null}}}},
{"data":{"values":[{}]},"mark":{"type":"rect","color":"#f1ecbc"},"encoding":{"x":{"datum":0,"type":"quantitative","scale":{"domain":[0,0.9],"range":[349,664],"nice":false,"zero":false},"axis":{"orient":"bottom","offset":-182.7,"labelOverlap":false,"values":[0,0.2,0.4,0.6,0.8],"labelExpr":"datum.value>0.01 ? format(datum.value,'.1f') : ''","tickSize":-5,"labelPadding":14,"title":"p","titleX":681.7,"titleY":12.7,"titleAlign":"left","titleBaseline":"alphabetic"}},"x2":{"datum":0.9},"y":{"datum":0,"type":"quantitative","scale":{"domain":[-37,2.14],"range":[600.5,406.7],"nice":false,"zero":false},"axis":{"orient":"left","offset":-349,"labelOverlap":false,"values":[-35,-30,-25,-20,-15,-10,-5,0],"format":"d","tickSize":-5,"labelPadding":{"condition":{"test":"datum.value===0","value":35},"value":11},"title":null}},"y2":{"datum":-3.2}}},
{"data":{"values":[{}]},"mark":{"type":"rule","color":"#000","strokeWidth":2,"strokeDash":[9,3,2,3,2,3]},"encoding":{"x":{"datum":0,"type":"quantitative","scale":{"domain":[0,0.9],"range":[349,664],"nice":false,"zero":false},"axis":null},"x2":{"datum":0.9},"y":{"datum":-3.4,"type":"quantitative","scale":{"domain":[-37,2.14],"range":[600.5,406.7],"nice":false,"zero":false},"axis":null}}},
{"data":{"values":[{}]},"mark":{"type":"rule","color":"#000","strokeWidth":2,"strokeDash":[2,5]},"encoding":{"x":{"datum":0,"type":"quantitative","scale":{"domain":[0,0.9],"range":[349,664],"nice":false,"zero":false},"axis":null},"x2":{"datum":0.9},"y":{"datum":-9.76,"type":"quantitative","scale":{"domain":[-37,2.14],"range":[600.5,406.7],"nice":false,"zero":false},"axis":null}}},
{"mark":{"type":"line","color":"#0000ff","strokeWidth":2.5,"interpolate":"monotone"},"encoding":{"x":{"field":"p","type":"quantitative","scale":{"domain":[0,0.9],"range":[349,664],"nice":false,"zero":false},"axis":null},"y":{"field":"i","type":"quantitative","scale":{"domain":[-37,2.14],"range":[600.5,406.7],"nice":false,"zero":false},"axis":null}}},
{"mark":{"type":"line","color":"#ff0000","strokeWidth":2.5,"interpolate":"monotone"},"encoding":{"x":{"field":"p","type":"quantitative","scale":{"domain":[0,0.9],"range":[349,664],"nice":false,"zero":false},"axis":null},"y":{"field":"l","type":"quantitative","scale":{"domain":[-37,2.14],"range":[600.5,406.7],"nice":false,"zero":false},"axis":null}}},
{"data":{"values":[{}]},"mark":{"type":"text","text":"Δ","align":"left","baseline":"alphabetic","fontSize":22,"color":"#0000ff"},"encoding":{"x":{"datum":-0.0971,"type":"quantitative","scale":{"domain":[0,0.9],"range":[349,664],"nice":false,"zero":false},"axis":null},"y":{"datum":5.857,"type":"quantitative","scale":{"domain":[-37,2.14],"range":[600.5,406.7],"nice":false,"zero":false},"axis":null}}},
{"data":{"values":[{}]},"mark":{"type":"text","text":"i","align":"left","baseline":"alphabetic","fontSize":22,"fontStyle":"italic","color":"#0000ff"},"encoding":{"x":{"datum":-0.0514,"type":"quantitative","scale":{"domain":[0,0.9],"range":[349,664],"nice":false,"zero":false},"axis":null},"y":{"datum":5.857,"type":"quantitative","scale":{"domain":[-37,2.14],"range":[600.5,406.7],"nice":false,"zero":false},"axis":null}}},
{"data":{"values":[{}]},"mark":{"type":"text","text":",","align":"left","baseline":"alphabetic","fontSize":22,"color":"#000"},"encoding":{"x":{"datum":-0.03,"type":"quantitative","scale":{"domain":[0,0.9],"range":[349,664],"nice":false,"zero":false},"axis":null},"y":{"datum":5.857,"type":"quantitative","scale":{"domain":[-37,2.14],"range":[600.5,406.7],"nice":false,"zero":false},"axis":null}}},
{"data":{"values":[{}]},"mark":{"type":"text","text":"Δ","align":"left","baseline":"alphabetic","fontSize":22,"color":"#ff0000"},"encoding":{"x":{"datum":-0.0114,"type":"quantitative","scale":{"domain":[0,0.9],"range":[349,664],"nice":false,"zero":false},"axis":null},"y":{"datum":5.857,"type":"quantitative","scale":{"domain":[-37,2.14],"range":[600.5,406.7],"nice":false,"zero":false},"axis":null}}},
{"data":{"values":[{}]},"mark":{"type":"text","text":"λ","align":"left","baseline":"alphabetic","fontSize":22,"fontStyle":"italic","color":"#ff0000"},"encoding":{"x":{"datum":0.0343,"type":"quantitative","scale":{"domain":[0,0.9],"range":[349,664],"nice":false,"zero":false},"axis":null},"y":{"datum":5.857,"type":"quantitative","scale":{"domain":[-37,2.14],"range":[600.5,406.7],"nice":false,"zero":false},"axis":null}}}
]
},
{
"data":{"values":[
{"p":0,"b":0,"r":0.181},{"p":0.05,"b":0.0002,"r":0.181},{"p":0.1,"b":0.0007,"r":0.1805},{"p":0.15,"b":0.0015,"r":0.18},{"p":0.2,"b":0.0025,"r":0.179},{"p":0.25,"b":0.004,"r":0.1775},{"p":0.3,"b":0.0055,"r":0.1755},{"p":0.35,"b":0.0075,"r":0.173},{"p":0.4,"b":0.0095,"r":0.17},{"p":0.45,"b":0.0115,"r":0.1667},{"p":0.5,"b":0.0135,"r":0.163},{"p":0.55,"b":0.0155,"r":0.159},{"p":0.6,"b":0.0175,"r":0.1535},{"p":0.65,"b":0.019,"r":0.1455},{"p":0.7,"b":0.0198,"r":0.135},{"p":0.75,"b":0.0195,"r":0.123},{"p":0.8,"b":0.018,"r":0.1076},{"p":0.85,"b":0.015,"r":0.091},{"p":0.9,"b":0.0112,"r":0.0706}
]},
"resolve":{"axis":{"x":"independent","y":"independent"}},
"layer":[
{"data":{"values":[{}]},"mark":{"type":"rule","opacity":0},"encoding":{"x":{"datum":0,"type":"quantitative","scale":{"domain":[0,0.9],"range":[770.7,1000.2],"nice":false,"zero":false},"axis":{"orient":"bottom","offset":-27.3,"values":[0.05,0.1,0.15,0.25,0.3,0.35,0.45,0.5,0.55,0.65,0.7,0.75,0.85,0.9],"labels":false,"domain":false,"tickSize":-3,"title":null}},"y":{"datum":0,"type":"quantitative","scale":{"domain":[0,0.19],"range":[572.7,435.5],"nice":false,"zero":false},"axis":{"orient":"left","offset":-770.7,"values":[0.01,0.02,0.03,0.04,0.06,0.07,0.08,0.09,0.11,0.12,0.13,0.14,0.16,0.17,0.18,0.19],"labels":false,"domain":false,"tickSize":-3,"title":null}}}},
{"mark":{"type":"line","color":"#ff0000","strokeWidth":2,"interpolate":"monotone"},"encoding":{"x":{"field":"p","type":"quantitative","scale":{"domain":[0,0.9],"range":[770.7,1000.2],"nice":false,"zero":false},"axis":{"orient":"bottom","offset":-27.3,"labelOverlap":false,"values":[0,0.2,0.4,0.6,0.8],"labelExpr":"datum.value>0.01 ? format(datum.value,'.1f') : ''","tickSize":-5,"labelPadding":14,"title":"p","titleX":1015,"titleY":7.3,"titleAlign":"left","titleBaseline":"alphabetic"}},"y":{"field":"r","type":"quantitative","scale":{"domain":[0,0.19],"range":[572.7,435.5],"nice":false,"zero":false},"axis":{"orient":"left","offset":-770.7,"labelOverlap":false,"values":[0,0.05,0.1,0.15],"format":".2f","tickSize":-5,"labelPadding":11,"title":null}}}},
{"mark":{"type":"line","color":"#0000ff","strokeWidth":2,"interpolate":"monotone"},"encoding":{"x":{"field":"p","type":"quantitative","scale":{"domain":[0,0.9],"range":[770.7,1000.2],"nice":false,"zero":false},"axis":null},"y":{"field":"b","type":"quantitative","scale":{"domain":[0,0.19],"range":[572.7,435.5],"nice":false,"zero":false},"axis":null}}},
{"data":{"values":[{}]},"mark":{"type":"text","text":"100","align":"left","baseline":"alphabetic","fontSize":17,"color":"#0000ff"},"encoding":{"x":{"datum":-0.153,"type":"quantitative","scale":{"domain":[0,0.9],"range":[770.7,1000.2],"nice":false,"zero":false},"axis":null},"y":{"datum":0.2484,"type":"quantitative","scale":{"domain":[0,0.19],"range":[572.7,435.5],"nice":false,"zero":false},"axis":null}}},
{"data":{"values":[{}]},"mark":{"type":"text","text":"ev","align":"left","baseline":"alphabetic","fontSize":17,"fontStyle":"italic","color":"#0000ff"},"encoding":{"x":{"datum":-0.0224,"type":"quantitative","scale":{"domain":[0,0.9],"range":[770.7,1000.2],"nice":false,"zero":false},"axis":null},"y":{"datum":0.2715,"type":"quantitative","scale":{"domain":[0,0.19],"range":[572.7,435.5],"nice":false,"zero":false},"axis":null}}},
{"data":{"values":[{}]},"mark":{"type":"text","text":"min","align":"left","baseline":"alphabetic","fontSize":17,"color":"#0000ff"},"encoding":{"x":{"datum":0.0482,"type":"quantitative","scale":{"domain":[0,0.9],"range":[770.7,1000.2],"nice":false,"zero":false},"axis":null},"y":{"datum":0.2645,"type":"quantitative","scale":{"domain":[0,0.19],"range":[572.7,435.5],"nice":false,"zero":false},"axis":null}}},
{"data":{"values":[{}]},"mark":{"type":"rule","color":"#0000ff","strokeWidth":1.5},"encoding":{"x":{"datum":-0.0224,"type":"quantitative","scale":{"domain":[0,0.9],"range":[770.7,1000.2],"nice":false,"zero":false},"axis":null},"x2":{"datum":0.1737},"y":{"datum":0.2586,"type":"quantitative","scale":{"domain":[0,0.19],"range":[572.7,435.5],"nice":false,"zero":false},"axis":null}}},
{"data":{"values":[{}]},"mark":{"type":"text","text":"ev","align":"left","baseline":"alphabetic","fontSize":17,"fontStyle":"italic","color":"#0000ff"},"encoding":{"x":{"datum":-0.0027,"type":"quantitative","scale":{"domain":[0,0.9],"range":[770.7,1000.2],"nice":false,"zero":false},"axis":null},"y":{"datum":0.223,"type":"quantitative","scale":{"domain":[0,0.19],"range":[572.7,435.5],"nice":false,"zero":false},"axis":null}}},
{"data":{"values":[{}]},"mark":{"type":"text","text":"int","align":"left","baseline":"alphabetic","fontSize":17,"color":"#0000ff"},"encoding":{"x":{"datum":0.0678,"type":"quantitative","scale":{"domain":[0,0.9],"range":[770.7,1000.2],"nice":false,"zero":false},"axis":null},"y":{"datum":0.2115,"type":"quantitative","scale":{"domain":[0,0.19],"range":[572.7,435.5],"nice":false,"zero":false},"axis":null}}},
{"data":{"values":[{}]},"mark":{"type":"text","text":",","align":"left","baseline":"alphabetic","fontSize":17,"color":"#000"},"encoding":{"x":{"datum":0.1933,"type":"quantitative","scale":{"domain":[0,0.9],"range":[770.7,1000.2],"nice":false,"zero":false},"axis":null},"y":{"datum":0.2489,"type":"quantitative","scale":{"domain":[0,0.19],"range":[572.7,435.5],"nice":false,"zero":false},"axis":null}}},
{"data":{"values":[{}]},"mark":{"type":"text","text":"ev","align":"left","baseline":"alphabetic","fontSize":17,"fontStyle":"italic","color":"#ff0000"},"encoding":{"x":{"datum":0.2588,"type":"quantitative","scale":{"domain":[0,0.9],"range":[770.7,1000.2],"nice":false,"zero":false},"axis":null},"y":{"datum":0.2715,"type":"quantitative","scale":{"domain":[0,0.19],"range":[572.7,435.5],"nice":false,"zero":false},"axis":null}}},
{"data":{"values":[{}]},"mark":{"type":"text","text":"int","align":"left","baseline":"alphabetic","fontSize":17,"color":"#ff0000"},"encoding":{"x":{"datum":0.3306,"type":"quantitative","scale":{"domain":[0,0.9],"range":[770.7,1000.2],"nice":false,"zero":false},"axis":null},"y":{"datum":0.2645,"type":"quantitative","scale":{"domain":[0,0.19],"range":[572.7,435.5],"nice":false,"zero":false},"axis":null}}},
{"data":{"values":[{}]},"mark":{"type":"rule","color":"#ff0000","strokeWidth":1.5},"encoding":{"x":{"datum":0.2247,"type":"quantitative","scale":{"domain":[0,0.9],"range":[770.7,1000.2],"nice":false,"zero":false},"axis":null},"x2":{"datum":0.4482},"y":{"datum":0.2586,"type":"quantitative","scale":{"domain":[0,0.19],"range":[572.7,435.5],"nice":false,"zero":false},"axis":null}}},
{"data":{"values":[{}]},"mark":{"type":"text","text":"ev","align":"left","baseline":"alphabetic","fontSize":17,"fontStyle":"italic","color":"#ff0000"},"encoding":{"x":{"datum":0.2247,"type":"quantitative","scale":{"domain":[0,0.9],"range":[770.7,1000.2],"nice":false,"zero":false},"axis":null},"y":{"datum":0.223,"type":"quantitative","scale":{"domain":[0,0.19],"range":[572.7,435.5],"nice":false,"zero":false},"axis":null}}},
{"data":{"values":[{}]},"mark":{"type":"text","text":"max","align":"left","baseline":"alphabetic","fontSize":17,"color":"#ff0000"},"encoding":{"x":{"datum":0.298,"type":"quantitative","scale":{"domain":[0,0.9],"range":[770.7,1000.2],"nice":false,"zero":false},"axis":null},"y":{"datum":0.2115,"type":"quantitative","scale":{"domain":[0,0.19],"range":[572.7,435.5],"nice":false,"zero":false},"axis":null}}}
]
},
{
"data":{"values":[
{"p":0,"v":1.0},{"p":0.05,"v":1.001},{"p":0.1,"v":1.005},{"p":0.15,"v":1.012},{"p":0.2,"v":1.024},{"p":0.25,"v":1.035},{"p":0.3,"v":1.05},{"p":0.35,"v":1.068},{"p":0.4,"v":1.09},{"p":0.45,"v":1.118},{"p":0.5,"v":1.15},{"p":0.55,"v":1.19},{"p":0.6,"v":1.245},{"p":0.65,"v":1.31},{"p":0.7,"v":1.39},{"p":0.75,"v":1.49},{"p":0.8,"v":1.7},{"p":0.85,"v":1.99},{"p":0.9,"v":2.58}
]},
"resolve":{"axis":{"x":"independent","y":"independent"}},
"layer":[
{"data":{"values":[{}]},"mark":{"type":"rule","opacity":0},"encoding":{"x":{"datum":0,"type":"quantitative","scale":{"domain":[0,0.9],"range":[1079.3,1343.9],"nice":false,"zero":false},"axis":{"orient":"bottom","offset":-27.7,"values":[0.05,0.1,0.15,0.25,0.3,0.35,0.45,0.5,0.55,0.65,0.7,0.75,0.85,0.9],"labels":false,"domain":false,"tickSize":-3,"title":null}},"y":{"datum":1,"type":"quantitative","scale":{"domain":[1,2.64],"range":[572.3,411.7],"nice":false,"zero":false},"axis":{"orient":"left","offset":-1079.3,"values":[1.1,1.2,1.3,1.4,1.6,1.7,1.8,1.9,2.1,2.2,2.3,2.4,2.6],"labels":false,"domain":false,"tickSize":-3,"title":null}}}},
{"data":{"values":[{}]},"mark":{"type":"rule","color":"#000","strokeWidth":2,"strokeDash":[2,5]},"encoding":{"x":{"datum":0,"type":"quantitative","scale":{"domain":[0,0.9],"range":[1079.3,1343.9],"nice":false,"zero":false},"axis":{"orient":"bottom","offset":-27.7,"labelOverlap":false,"values":[0,0.2,0.4,0.6,0.8],"labelExpr":"datum.value>0.01 ? format(datum.value,'.1f') : ''","tickSize":-5,"labelPadding":14,"title":"p","titleX":1363,"titleY":6,"titleAlign":"left","titleBaseline":"alphabetic"}},"x2":{"datum":0.9},"y":{"datum":1.49,"type":"quantitative","scale":{"domain":[1,2.64],"range":[572.3,411.7],"nice":false,"zero":false},"axis":{"orient":"left","offset":-1079.3,"labelOverlap":false,"values":[1,1.5,2,2.5],"format":".1f","tickSize":-5,"labelPadding":11,"title":null}}}},
{"mark":{"type":"line","color":"#000","strokeWidth":2.5},"encoding":{"x":{"field":"p","type":"quantitative","scale":{"domain":[0,0.9],"range":[1079.3,1343.9],"nice":false,"zero":false},"axis":null},"y":{"field":"v","type":"quantitative","scale":{"domain":[1,2.64],"range":[572.3,411.7],"nice":false,"zero":false},"axis":null}}},
{"data":{"values":[{}]},"mark":{"type":"text","text":"B","align":"left","baseline":"alphabetic","fontSize":24,"fontStyle":"italic","font":"Liberation Serif","color":"#000"},"encoding":{"x":{"datum":-0.1235,"type":"quantitative","scale":{"domain":[0,0.9],"range":[1079.3,1343.9],"nice":false,"zero":false},"axis":null},"y":{"datum":2.86,"type":"quantitative","scale":{"domain":[1,2.64],"range":[572.3,411.7],"nice":false,"zero":false},"axis":null}}},
{"data":{"values":[{}]},"mark":{"type":"text","text":"z,max,MV","align":"left","baseline":"alphabetic","fontSize":17,"font":"Liberation Serif","color":"#000"},"encoding":{"x":{"datum":-0.0656,"type":"quantitative","scale":{"domain":[0,0.9],"range":[1079.3,1343.9],"nice":false,"zero":false},"axis":null},"y":{"datum":2.83,"type":"quantitative","scale":{"domain":[1,2.64],"range":[572.3,411.7],"nice":false,"zero":false},"axis":null}}},
{"data":{"values":[{}]},"mark":{"type":"text","text":"/","align":"left","baseline":"alphabetic","fontSize":24,"font":"Liberation Serif","color":"#000"},"encoding":{"x":{"datum":0.2269,"type":"quantitative","scale":{"domain":[0,0.9],"range":[1079.3,1343.9],"nice":false,"zero":false},"axis":null},"y":{"datum":2.86,"type":"quantitative","scale":{"domain":[1,2.64],"range":[572.3,411.7],"nice":false,"zero":false},"axis":null}}},
{"data":{"values":[{}]},"mark":{"type":"text","text":"B","align":"left","baseline":"alphabetic","fontSize":24,"fontStyle":"italic","font":"Liberation Serif","color":"#000"},"encoding":{"x":{"datum":0.2742,"type":"quantitative","scale":{"domain":[0,0.9],"range":[1079.3,1343.9],"nice":false,"zero":false},"axis":null},"y":{"datum":2.86,"type":"quantitative","scale":{"domain":[1,2.64],"range":[572.3,411.7],"nice":false,"zero":false},"axis":null}}},
{"data":{"values":[{}]},"mark":{"type":"text","text":"z,max,FR","align":"left","baseline":"alphabetic","fontSize":17,"font":"Liberation Serif","color":"#000"},"encoding":{"x":{"datum":0.3313,"type":"quantitative","scale":{"domain":[0,0.9],"range":[1079.3,1343.9],"nice":false,"zero":false},"axis":null},"y":{"datum":2.83,"type":"quantitative","scale":{"domain":[1,2.64],"range":[572.3,411.7],"nice":false,"zero":false},"axis":null}}}
]
}
]
}
